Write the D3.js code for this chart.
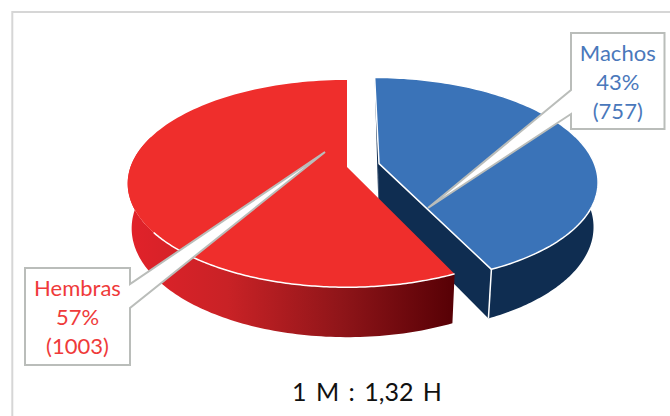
<!DOCTYPE html>
<html>
<head>
<meta charset="utf-8">
<script src="https://cdn.jsdelivr.net/npm/d3@7"></script>
<style>
  html, body { margin: 0; padding: 0; background: #fff; }
  svg { display: block; }
  text { font-family: Lato, "Open Sans", sans-serif; text-anchor: middle; }
</style>
</head>
<body>
<div id="chart"></div>
<script>
var categories = ["Machos", "Hembras"];
var counts = [757, 1003];
var ratioLabel = "1 M : 1,32 H";

var topColors = ["#3a73b8", "#ef2e2c"];
var textColors = ["#4a78bb", "#ef3a3a"];

var width = 670, height = 416;

var svg = d3.select("#chart").append("svg")
  .attr("width", width)
  .attr("height", height);

var defs = svg.append("defs");
var redWall = defs.append("linearGradient")
  .attr("id", "redwall")
  .attr("gradientUnits", "userSpaceOnUse")
  .attr("x1", 130).attr("x2", 455).attr("y1", 0).attr("y2", 0);
redWall.append("stop").attr("offset", "0").attr("stop-color", "#e1222a");
redWall.append("stop").attr("offset", "0.3").attr("stop-color", "#c92226");
redWall.append("stop").attr("offset", "0.65").attr("stop-color", "#8f1519");
redWall.append("stop").attr("offset", "1").attr("stop-color", "#560005");

// outer frame, open on the right and at the bottom edge of the page
svg.append("path")
  .attr("d", "M12.3,416V12H670")
  .attr("fill", "none")
  .attr("stroke", "#d6d6d6")
  .attr("stroke-width", 2);

// perspective projection of the pie: ground plane radius R, thickness depth
var R = 216.5, cx = 347, cy = 167;
var tilt = 101 / R, persp = 0.16, depth = 45, sink = 0.018, explode = 33;

function project(u, v, lower) {
  var s = 1 / (1 + persp * v / R + (lower ? sink : 0));
  return [cx + u * s, cy + (-v * tilt + (lower ? depth : 0)) * s];
}

var pie = d3.pie().sort(null).value(function(d) { return d; });
var arcs = pie(counts);
var line = d3.line();

// slice 0 is pulled out along its middle angle, the other one stays on the origin
function offset(i) {
  if (i != 0) return [0, 0];
  var mid = (arcs[i].startAngle + arcs[i].endAngle) / 2;
  return [explode * Math.sin(mid), explode * Math.cos(mid)];
}

function rim(i, a, lower) {
  var o = offset(i);
  return project(o[0] + R * Math.sin(a), o[1] + R * Math.cos(a), lower);
}

function rimPoints(i, a0, a1, lower) {
  return d3.range(0, 121).map(function(k) {
    return rim(i, a0 + (a1 - a0) * k / 120, lower);
  });
}

function apex(i, lower) {
  var o = offset(i);
  return project(o[0], o[1], lower);
}

function drawSlice(i, wallFill, wallFrom, wallTo, edgeTo) {
  var a = arcs[i];
  var g = svg.append("g");

  // curved wall
  g.append("path")
    .attr("d", line(rimPoints(i, wallFrom, wallTo, false)
      .concat(rimPoints(i, wallTo, wallFrom, true))) + "Z")
    .attr("fill", wallFill);

  // flat cut wall for the pulled out slice
  if (i == 0) {
    g.append("path")
      .attr("d", line([apex(i, false), rim(i, a.endAngle, false), rim(i, a.endAngle, true), apex(i, true)]) + "Z")
      .attr("fill", wallFill);
    g.append("path")
      .attr("d", line([rim(i, a.endAngle, false), rim(i, a.endAngle, true)]))
      .attr("stroke", "#fff").attr("stroke-width", 1.5).attr("fill", "none");
    g.append("path")
      .attr("d", line([apex(i, false), rim(i, a.startAngle, false), apex(i, true)]) + "Z")
      .attr("fill", wallFill);
  }

  // top face
  var topFace = g.append("path")
    .attr("d", line([apex(i, false)].concat(rimPoints(i, a.startAngle, a.endAngle, false))) + "Z")
    .attr("fill", topColors[i]);

  if (i == 0) {
    topFace.attr("stroke", "#fff")
      .attr("stroke-width", 1.5)
      .attr("stroke-linejoin", "round");
  } else {
    // light edge only where the top meets the wall
    g.append("path")
      .attr("d", line(rimPoints(i, a.startAngle, edgeTo, false)))
      .attr("fill", "none")
      .attr("stroke", "#fff")
      .attr("stroke-width", 1.5);
  }
}

drawSlice(0, "#0f2d51", arcs[0].endAngle, Math.PI / 3);
drawSlice(1, "url(#redwall)", arcs[1].startAngle, Math.PI * 1.6, Math.PI * 1.3);

// callouts with a pointer into the slice
function callout(i, box, tip, wedge, baselines) {
  var g = svg.append("g");
  var path = d3.path();
  path.moveTo(box.x0, box.y0);
  if (wedge.side == "left") {
    path.lineTo(box.x0, wedge.y0);
    path.lineTo(tip[0], tip[1]);
    path.lineTo(box.x0, wedge.y1);
    path.lineTo(box.x0, box.y1);
    path.lineTo(box.x1, box.y1);
    path.lineTo(box.x1, box.y0);
  } else {
    path.lineTo(box.x0, box.y1);
    path.lineTo(box.x1, box.y1);
    path.lineTo(box.x1, wedge.y1);
    path.lineTo(tip[0], tip[1]);
    path.lineTo(box.x1, wedge.y0);
    path.lineTo(box.x1, box.y0);
  }
  path.closePath();
  g.append("path")
    .attr("d", path.toString())
    .attr("fill", "#fff")
    .attr("stroke", "#babdba")
    .attr("stroke-width", 2)
    .attr("stroke-linejoin", "miter")
    .attr("stroke-miterlimit", 4);

  var total = d3.sum(counts);
  var lines = [categories[i], Math.round(counts[i] / total * 100) + "%", "(" + counts[i] + ")"];
  g.selectAll("text").data(lines).enter().append("text")
    .attr("x", (box.x0 + box.x1) / 2)
    .attr("y", function(d, k) { return baselines[k]; })
    .attr("fill", textColors[i])
    .style("font-size", "22px")
    .text(function(d) { return d; });
}

callout(0, {x0: 571, y0: 33, x1: 664.5, y1: 129}, [428, 208], {side: "left", y0: 90, y1: 114}, [61, 90, 119]);
callout(1, {x0: 25, y0: 268, x1: 130, y1: 365}, [325, 152], {side: "right", y0: 284, y1: 308}, [296, 325, 354]);

svg.append("text")
  .attr("x", 367)
  .attr("y", 401)
  .attr("fill", "#111")
  .style("font-size", "25px")
  .style("word-spacing", "3px")
  .text(ratioLabel);
</script>
</body>
</html>
